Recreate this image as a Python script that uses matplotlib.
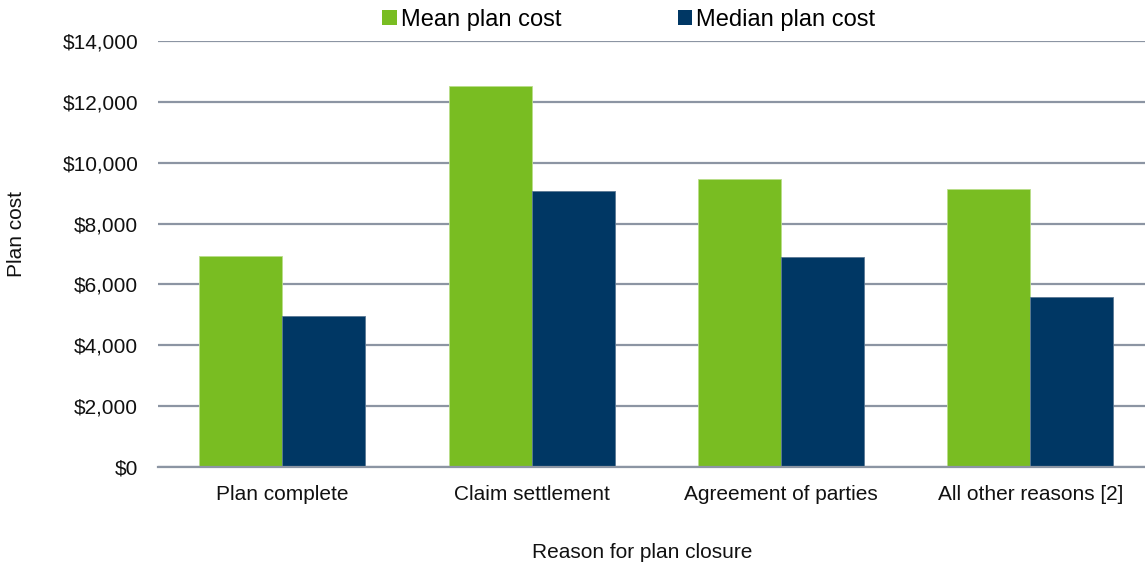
import matplotlib
matplotlib.use("Agg")
import matplotlib.pyplot as plt
import numpy as np
from matplotlib.patches import Patch
from matplotlib.ticker import FuncFormatter

plt.rcParams['font.family'] = ['Liberation Sans', 'DejaVu Sans']

# Plan cost by reason for plan closure
categories = ["Plan complete", "Claim settlement", "Agreement of parties", "All other reasons [2]"]
mean_cost = [6920, 12510, 9450, 9130]
median_cost = [4960, 9065, 6890, 5585]
series_names = ["Mean plan cost", "Median plan cost"]
y_ticks = [0, 2000, 4000, 6000, 8000, 10000, 12000, 14000]

green = "#79BD22"
navy = "#003764"
grid_col = "#8C95A3"

fig = plt.figure(figsize=(11.45, 5.69), dpi=100)
ax = fig.add_axes([157.65 / 1145, 1 - 467 / 569, 997.25 / 1145, 426 / 569])

x = np.arange(len(categories))
w = 1 / 3
ax.bar(x - w / 2, mean_cost, width=w, color=green, edgecolor="#B9DE8A", linewidth=0.6, zorder=3)
ax.bar(x + w / 2, median_cost, width=w, color=navy, edgecolor="#5A7894", linewidth=0.6, zorder=3)

ax.set_xlim(-0.5, len(categories) - 0.5)
ax.set_ylim(0, 14000)
ax.set_yticks(y_ticks)
ax.yaxis.set_major_formatter(FuncFormatter(lambda v, p: "${:,.0f}".format(v)))
ax.set_xticks(x)
ax.set_xticklabels(categories)

ax.yaxis.grid(True, color=grid_col, linewidth=1.6, zorder=0)
ax.xaxis.grid(False)
for s in ["top", "right", "left"]:
    ax.spines[s].set_visible(False)
ax.spines["bottom"].set_color(grid_col)
ax.spines["bottom"].set_linewidth(1.6)
ax.spines["bottom"].set_zorder(4)

ax.tick_params(axis="both", length=0, labelsize=15, colors="#111111")
ax.tick_params(axis="y", pad=14)
ax.tick_params(axis="x", pad=13)

ax.set_ylabel("Plan cost", fontsize=15, color="#111111", va="center")
ax.yaxis.set_label_coords(-(157.65 - 17) / 997.25, (467 - 234) / 426)
ax.set_xlabel("Reason for plan closure", fontsize=15, color="#111111")
ax.xaxis.set_label_coords((642 - 157.65) / 997.25, -(552 - 467) / 426)
ax.xaxis.label.set_va("center")

handles = [Patch(facecolor=green, edgecolor="none"), Patch(facecolor=navy, edgecolor="none")]
fig.legend(handles, series_names, loc="center", bbox_to_anchor=(629 / 1145, 1 - 20 / 569),
           ncol=2, frameon=False, fontsize=17, handlelength=0.6, handleheight=0.6,
           handletextpad=0.2, columnspacing=4.9, borderpad=0, borderaxespad=0)

fig.savefig("out.png", dpi=100, facecolor="white")
